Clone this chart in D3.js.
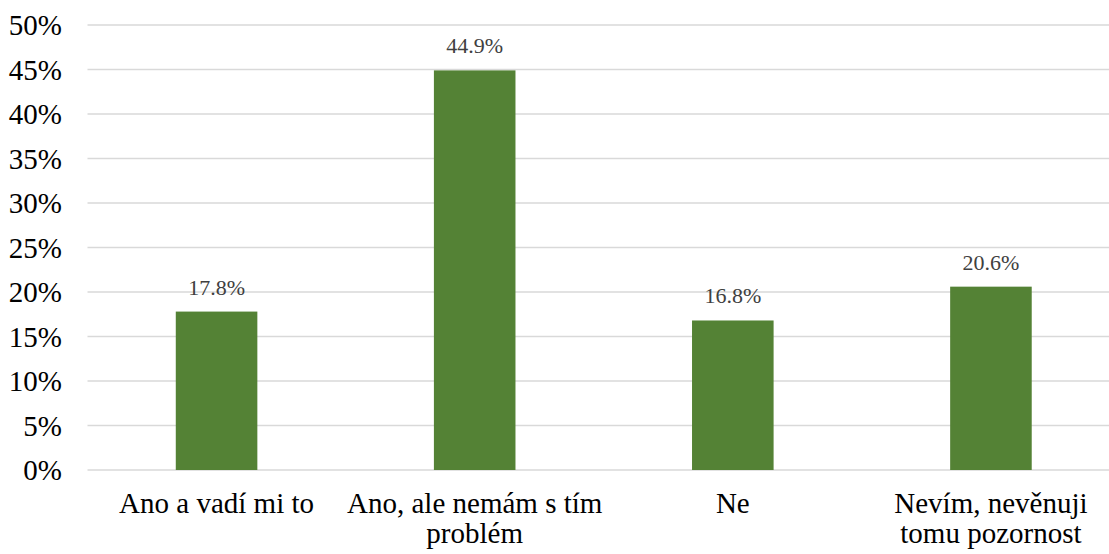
<!DOCTYPE html>
<html>
<head>
<meta charset="utf-8">
<script src="https://cdn.jsdelivr.net/npm/d3@7"></script>
<style>
  html, body { margin: 0; padding: 0; background: #fff; }
  svg { display: block; }
</style>
</head>
<body>
<svg id="chart" width="1109" height="554"></svg>
<script>
// Survey answers and their shares (percent)
const categories = ["Ano a vadí mi to", "Ano, ale nemám s tím problém", "Ne", "Nevím, nevěnuji tomu pozornost"];
// Category labels as they are broken onto lines under the bars
const categoryLines = [
  ["Ano a vadí mi to"],
  ["Ano, ale nemám s tím", "problém"],
  ["Ne"],
  ["Nevím, nevěnuji", "tomu pozornost"]
];
const values = [17.8, 44.9, 16.8, 20.6];
const yTicks = [0, 5, 10, 15, 20, 25, 30, 35, 40, 45, 50];

const serif = '"Liberation Serif"';

const svg = d3.select("#chart");
const width = 1109, height = 554;
const plotLeft = 87.5, plotRight = 1120, plotTop = 25, plotBottom = 470;

const x = d3.scaleBand()
  .domain(categories)
  .range([plotLeft, plotRight])
  .paddingInner(0.684)
  .paddingOuter(0.342);

const y = d3.scaleLinear()
  .domain([0, 50])
  .range([plotBottom, plotTop]);

// Horizontal gridlines
svg.append("g")
  .selectAll("line")
  .data(yTicks)
  .join("line")
  .attr("x1", plotLeft)
  .attr("x2", width)
  .attr("y1", d => y(d))
  .attr("y2", d => y(d))
  .attr("stroke", "#d9d9d9")
  .attr("stroke-width", 1.5);

// Y axis labels
const yAxis = d3.axisLeft(y)
  .tickValues(yTicks)
  .tickFormat(d => d + "%")
  .tickSize(0)
  .tickPadding(0);

svg.append("g")
  .attr("transform", `translate(62,0)`)
  .call(yAxis)
  .call(g => g.select(".domain").remove())
  .attr("font-family", null)
  .attr("font-size", null)
  .call(g => g.selectAll("text")
    .style("font-family", serif)
    .style("font-size", "29px")
    .attr("fill", "#000")
    .attr("dy", "0.34em"));

// Bars
svg.append("g")
  .selectAll("rect")
  .data(values)
  .join("rect")
  .attr("x", (d, i) => x(categories[i]))
  .attr("width", x.bandwidth())
  .attr("y", d => y(d))
  .attr("height", d => plotBottom - y(d))
  .attr("fill", "#548235");

// Value labels above bars
svg.append("g")
  .selectAll("text")
  .data(values)
  .join("text")
  .attr("x", (d, i) => x(categories[i]) + x.bandwidth() / 2)
  .attr("y", d => y(d) - 17)
  .attr("text-anchor", "middle")
  .style("font-family", serif)
  .style("font-size", "22px")
  .attr("fill", "#404040")
  .text(d => d.toFixed(1) + "%");

// Category labels under the bars
const xAxis = d3.axisBottom(x).tickSize(0).tickPadding(0);
svg.append("g")
  .attr("transform", `translate(0,${plotBottom})`)
  .call(xAxis)
  .call(g => g.select(".domain").remove())
  .attr("font-family", null)
  .attr("font-size", null)
  .call(g => g.selectAll("text")
    .style("font-family", serif)
    .style("font-size", "29px")
    .attr("fill", "#000")
    .attr("dy", 0)
    .text(null)
    .each(function (d) {
      const lines = categoryLines[categories.indexOf(d)];
      d3.select(this).selectAll("tspan")
        .data(lines)
        .join("tspan")
        .attr("x", 0)
        .attr("y", (l, i) => 43 + i * 30)
        .text(l => l);
    }));
</script>
</body>
</html>
